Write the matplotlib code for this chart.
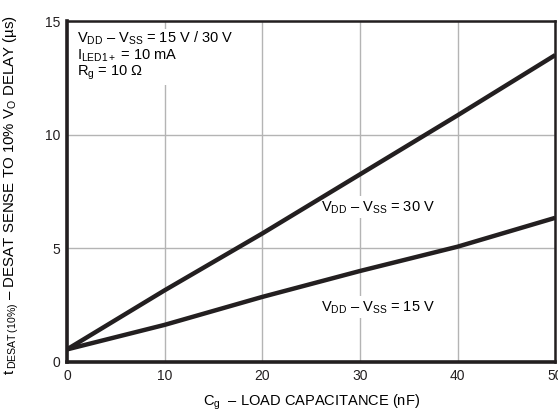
"""
DESAT sense to 10% V_O delay vs. load capacitance.
"""

import matplotlib.pyplot as plt

plt.rcParams["font.family"] = ["Liberation Sans", "DejaVu Sans"]
plt.rcParams["mathtext.fontset"] = "custom"
plt.rcParams["mathtext.rm"] = "Liberation Sans"
plt.rcParams["mathtext.it"] = "Liberation Sans"
plt.rcParams["mathtext.default"] = "regular"

# ── data ──────────────────────────────────────────────────────────────────────

cg_nf    = [0, 10, 20, 30, 40, 50]
t_30v    = [0.55, 3.15, 5.65, 8.25, 10.85, 13.5]
t_15v    = [0.55, 1.63, 2.86, 4.0, 5.07, 6.34]

x_ticks = [0, 10, 20, 30, 40, 50]
y_ticks = [0, 5, 10, 15]

LINE = "#231f20"
GRID = "#b4b4b4"
FS = 10.5

# ── plot ───────────────────────────────────────────────────────────────────────

fig = plt.figure(figsize=(5.58, 4.16), dpi=100)
ax = fig.add_axes([0.120, 0.130, 0.875, 0.8195])

ax.plot(cg_nf, t_30v, color=LINE, linewidth=3.2, solid_capstyle="butt", zorder=3)
ax.plot(cg_nf, t_15v, color=LINE, linewidth=3.2, solid_capstyle="butt", zorder=3)

ax.set_xlim(0, 50)
ax.set_ylim(0, 15)
ax.set_xticks(x_ticks)
ax.set_yticks(y_ticks)
ax.grid(True, color=GRID, linewidth=1.0)
ax.set_axisbelow(True)

for side in ("left", "bottom"):
    ax.spines[side].set_linewidth(2.6)
for side in ("top", "right"):
    ax.spines[side].set_linewidth(1.8)
for sp in ax.spines.values():
    sp.set_color(LINE)

ax.tick_params(length=0, pad=5, labelsize=10, colors=LINE)

ax.set_xlabel(r"C$_{\rm g}$  – LOAD CAPACITANCE (nF)", fontsize=FS, labelpad=7)
ax.set_ylabel(r"t$\,_{\rm DESAT\,(10\%)}$ – DESAT SENSE TO 10% V$_{\rm O}$ DELAY (µs)",
              fontsize=10.8)
ax.yaxis.set_label_coords(-0.095, 0.49)

box = dict(facecolor="white", edgecolor="none", pad=2)
ax.text(1.0, 14.6,
        "V$_{DD}$ – V$_{SS}$ = 15 V / 30 V\n"
        "I$_{LED1+}$ = 10 mA\n"
        "R$_{g}$ = 10 Ω",
        fontsize=FS, va="top", ha="left", linespacing=1.0, bbox=box, zorder=2.5)
ax.text(31.9, 6.8, "V$_{DD}$ – V$_{SS}$ = 30 V", fontsize=FS,
        ha="center", va="center", bbox=box, zorder=2.5)
ax.text(31.9, 2.4, "V$_{DD}$ – V$_{SS}$ = 15 V", fontsize=FS,
        ha="center", va="center", bbox=box, zorder=2.5)

fig.savefig("out.png", dpi=100)
